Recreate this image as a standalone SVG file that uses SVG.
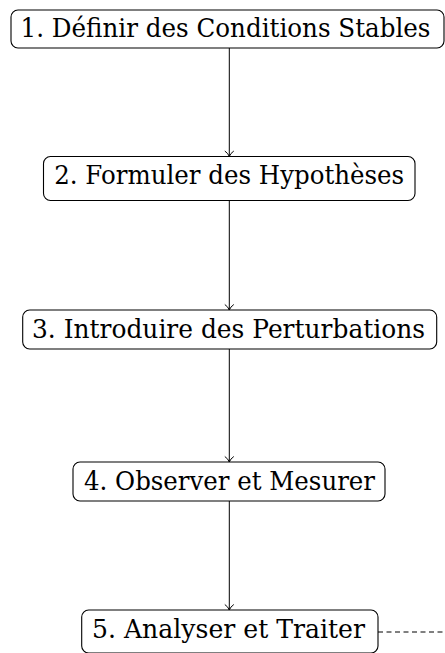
<svg xmlns="http://www.w3.org/2000/svg" width="445" height="653" viewBox="0 0 445 653">
<style>
.box{fill:#fff;stroke:#000;stroke-width:1.1}
.t{font-family:"DejaVu Serif","Liberation Serif",serif;font-size:26px;fill:#000;text-anchor:middle}
.c{fill:none;stroke:#000;stroke-width:1}
</style>
<defs>
<marker id="arr" markerUnits="userSpaceOnUse" markerWidth="14" markerHeight="14" refX="7" refY="7" orient="auto" overflow="visible">
<path d="M1.5,2.5 Q4,6 7,7 Q4,8 1.5,11.5" fill="none" stroke="#000" stroke-width="1"/>
</marker>
</defs>
<rect width="445" height="653" fill="#fff"/>
<g id="connectors">
<line class="c" x1="229.3" y1="48" x2="229.3" y2="156.5" marker-end="url(#arr)"/>
<line class="c" x1="229.3" y1="201" x2="229.3" y2="310" marker-end="url(#arr)"/>
<line class="c" x1="229.3" y1="349" x2="229.3" y2="462" marker-end="url(#arr)"/>
<line class="c" x1="229.3" y1="501" x2="229.3" y2="610" marker-end="url(#arr)"/>
<line class="c" x1="378" y1="632" x2="445" y2="632" stroke-dasharray="5 3.5"/>
</g>
<g id="n1">
<rect class="box" x="11" y="10" width="433" height="38" rx="7"/>
<text class="t" x="225.5" y="37" textLength="410" lengthAdjust="spacingAndGlyphs">1. Définir des Conditions Stables</text>
</g>
<g id="n2">
<rect class="box" x="43.5" y="156.5" width="371.5" height="44" rx="7"/>
<text class="t" x="229.2" y="183.5" textLength="350" lengthAdjust="spacingAndGlyphs">2. Formuler des Hypothèses</text>
</g>
<g id="n3">
<rect class="box" x="22.7" y="310" width="414" height="39" rx="7"/>
<text class="t" x="228.5" y="337.5" textLength="393" lengthAdjust="spacingAndGlyphs">3. Introduire des Perturbations</text>
</g>
<g id="n4">
<rect class="box" x="73" y="462" width="312" height="39" rx="7"/>
<text class="t" x="229.5" y="489.5" textLength="291" lengthAdjust="spacingAndGlyphs">4. Observer et Mesurer</text>
</g>
<g id="n5">
<rect class="box" x="81.7" y="610" width="296.3" height="43" rx="7"/>
<text class="t" x="228.5" y="637.5" textLength="273" lengthAdjust="spacingAndGlyphs">5. Analyser et Traiter</text>
</g>
</svg>
